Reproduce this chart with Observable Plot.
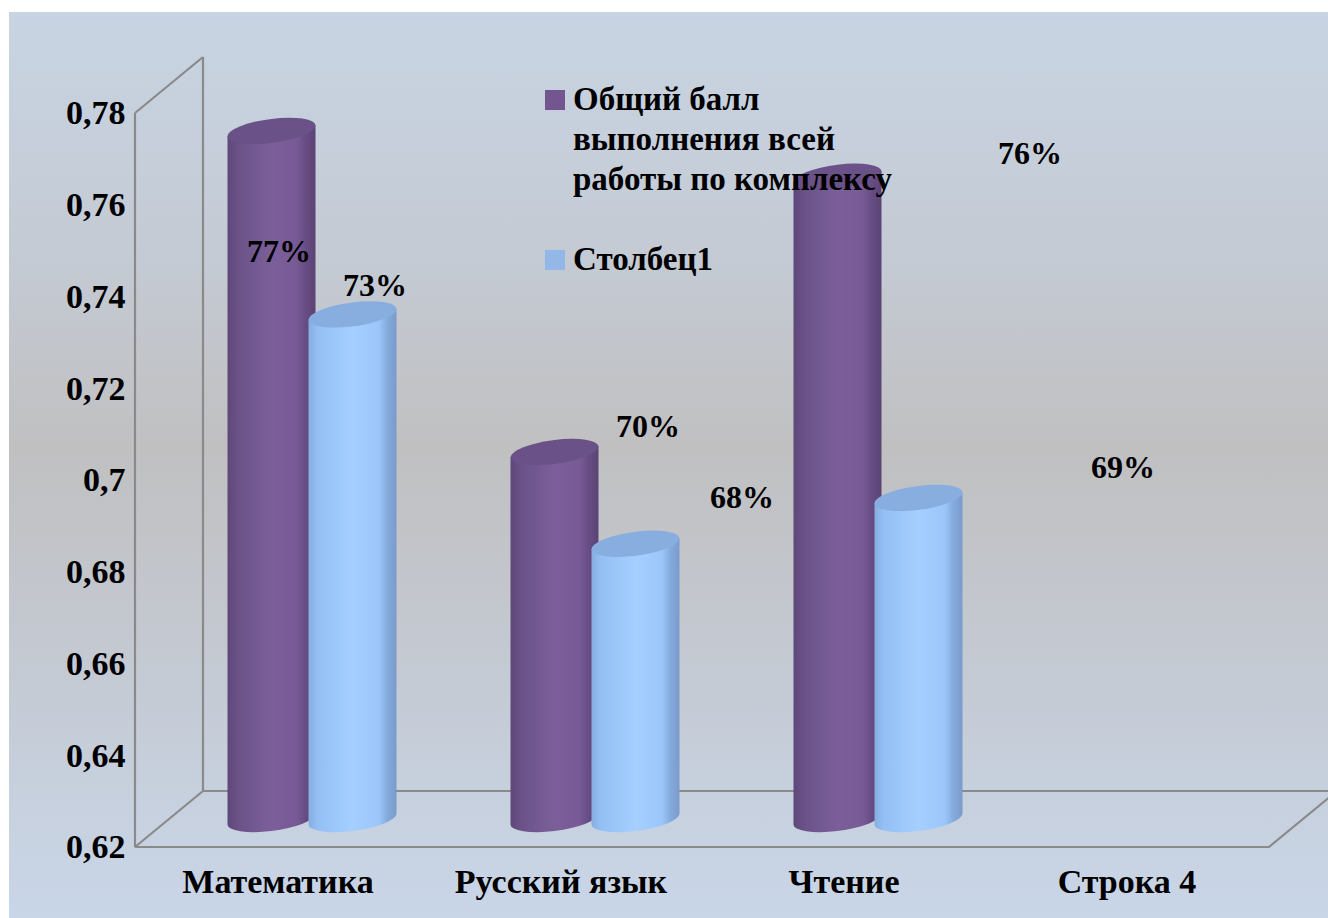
<!DOCTYPE html>
<html>
<head>
<meta charset="utf-8">
<script src="https://cdn.jsdelivr.net/npm/d3@7"></script>
<script src="https://cdn.jsdelivr.net/npm/@observablehq/plot@0.6"></script>
<style>
  html, body { margin: 0; padding: 0; background: #fff; }
  #wrap {
    position: absolute; left: 9px; top: 12px; width: 1319px; height: 906px;
    background: linear-gradient(to bottom, #c8d4e3 0%, #c4cad3 28%, #c0c0c1 48%, #c3c7ce 66%, #c9d6e8 100%);
    overflow: hidden;
  }
  #legend {
    position: absolute; left: 536px; top: 67px;
    font-family: "Liberation Serif", serif; font-weight: bold; font-size: 33px; color: #000;
  }
  .item { position: absolute; left: 0; white-space: nowrap; }
  .sw { position: absolute; left: 0; width: 20px; height: 20px; }
  .txt { position: absolute; left: 28px; line-height: 40px; }
</style>
</head>
<body>
<div id="wrap"><div id="chart"></div><div id="legend"></div></div>
<script>
// ---- data ----
const categories = ["Математика", "Русский язык", "Чтение", "Строка 4"];
const seriesNames = ["Общий балл выполнения всей работы по комплексу", "Столбец1"];
const legendLines = [["Общий балл", "выполнения всей", "работы по комплексу"], ["Столбец1"]];
const seriesA = [0.77, 0.70, 0.76, null];
const seriesB = [0.73, 0.68, 0.69, null];
const yTicks = [0.62, 0.64, 0.66, 0.68, 0.70, 0.72, 0.74, 0.76, 0.78];
const labelsA = ["77%", "70%", "76%", null];
const labelsB = ["73%", "68%", "69%", null];

// ---- styles ----
const depth = {dx: 68, dy: -56};       // 3D depth of floor / wall
const mid = {dx: 34, dy: -28};         // bars sit at mid depth
const seriesOffset = [-40, 41];
const rx = 44, ry = 12, skew = -7;
const labelOffsets = [
  [[7, 120], [93, -26], [192, -24]],
  [[22, -29], [106, -47], [204, -31]]
];

const rows = [];
categories.forEach((c, i) => {
  if (seriesA[i] != null) rows.push({cat: c, s: 0, i, value: seriesA[i], label: labelsA[i]});
  if (seriesB[i] != null) rows.push({cat: c, s: 1, i, value: seriesB[i], label: labelsB[i]});
});

const W = 1319, H = 906;

function bandInfo(x) {
  const r = x.range();
  let bw = typeof x.bandwidth === "function" ? x.bandwidth() : 0;
  if (!bw) bw = (r[1] - r[0]) / categories.length;
  return {r, bw};
}

function frame(index, scales) {
  const x = scales.x, y = scales.y;
  const [x0, x1] = x.range();
  const yb = y(0.62), yt = y(0.78);
  const g = d3.create("svg:g").attr("fill", "none").attr("stroke", "#8a8a8a").attr("stroke-width", 2.2);
  const lines = [
    [[x0, yt], [x0, yb]],
    [[x0 + depth.dx, yt + depth.dy], [x0 + depth.dx, yb + depth.dy]],
    [[x0, yt], [x0 + depth.dx, yt + depth.dy]],
    [[x0, yb], [x0 + depth.dx, yb + depth.dy]],
    [[x0, yb], [x1, yb], [x1 + depth.dx, yb + depth.dy]],
    [[x0 + depth.dx, yb + depth.dy], [x1 + depth.dx + 20, yb + depth.dy]]
  ];
  for (const l of lines) g.append("path").attr("d", d3.line()(l));
  return g.node();
}

function cylinders(index, scales) {
  const x = scales.x, y = scales.y;
  const {bw} = bandInfo(x);
  const g = d3.create("svg:g");
  const defs = g.append("defs");
  const grads = [
    {id: "gA", stops: [[0, "#5e4779"], [0.12, "#6a5288"], [0.5, "#7c5f9a"], [0.78, "#785b96"], [0.9, "#654b82"], [1, "#5b4474"]], top: "#6a5187"},
    {id: "gB", stops: [[0, "#86addf"], [0.1, "#94bff4"], [0.5, "#a4cfff"], [0.8, "#9cc6fa"], [0.9, "#84aadc"], [1, "#7a9bcb"]], top: "#88aedf"}
  ];
  grads.forEach(gr => {
    const lg = defs.append("linearGradient").attr("id", gr.id).attr("x1", 0).attr("x2", 1).attr("y1", 0).attr("y2", 0);
    gr.stops.forEach(([o, c]) => lg.append("stop").attr("offset", o).attr("stop-color", c));
  });
  for (const r of rows) {
    const cx = x(r.cat) + bw / 2 + mid.dx + seriesOffset[r.s];
    const ty = y(r.value) + mid.dy;
    const by = y(0.62) + mid.dy;
    const c = g.append("g").attr("transform", `translate(${cx},0) skewY(${skew})`);
    c.append("path")
      .attr("d", `M${-rx},${ty} L${-rx},${by} A${rx},${ry} 0 0 0 ${rx},${by} L${rx},${ty} Z`)
      .attr("fill", `url(#${grads[r.s].id})`);
    c.append("ellipse").attr("cx", 0).attr("cy", ty).attr("rx", rx).attr("ry", ry)
      .attr("fill", grads[r.s].top);
  }
  return g.node();
}

const fmt = d => String(+d.toFixed(2)).replace(".", ",");

const labelMarks = rows.map(r => Plot.text([r], {
  x: "cat", y: "value", text: "label",
  dx: mid.dx + seriesOffset[r.s] + labelOffsets[r.s][r.i][0],
  dy: mid.dy + labelOffsets[r.s][r.i][1],
  fontSize: 32, fontWeight: "bold", fill: "#000"
}));

const plot = Plot.plot({
  width: W, height: H,
  marginLeft: 126, marginRight: 59, marginTop: 101, marginBottom: 71,
  style: {background: "transparent", fontFamily: "'Liberation Serif', serif", fontWeight: "bold", fontSize: "34px", color: "#000", overflow: "visible"},
  x: {type: "band", domain: categories, padding: 0, label: null},
  y: {domain: [0.62, 0.78], label: null},
  marks: [
    frame,
    Plot.axisY({ticks: yTicks, tickFormat: fmt, tickSize: 0, tickPadding: 10, label: null, fontSize: 34}),
    Plot.axisX({tickSize: 0, tickPadding: 21, label: null, fontSize: 34}),
    cylinders,
    ...labelMarks
  ]
});
document.getElementById("chart").appendChild(plot);

// legend (HTML overlay)
const legend = d3.select("#legend");
const colors = ["#735690", "#93b7e6"];
const tops = [0, 160];
legendLines.forEach((lines, s) => {
  const it = legend.append("div").attr("class", "item").style("top", tops[s] + "px");
  it.append("div").attr("class", "sw").style("background", colors[s]).style("top", "11px").attr("title", seriesNames[s]);
  it.append("div").attr("class", "txt").html(lines.join("<br>"));
});
</script>
</body>
</html>
